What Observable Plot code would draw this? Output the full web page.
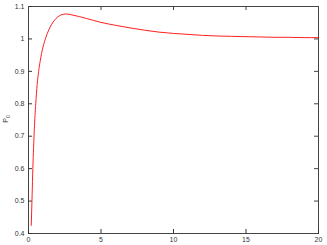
<!DOCTYPE html>
<html><head><meta charset="utf-8">
<script src="https://cdn.jsdelivr.net/npm/d3@7"></script>
<script src="https://cdn.jsdelivr.net/npm/@observablehq/plot@0.6"></script>
<style>body{margin:0;background:#fff}</style>
</head><body><div id="chart"></div>
<script>
const tValues = [0.19,0.25,0.3,0.4,0.5,0.6,0.7,0.8,0.9,1.0,1.2,1.4,1.6,1.8,2.0,2.2,2.4,2.6,2.8,3.0,3.5,4,4.5,5,6,7,8,9,10,11,12,13,14,15,16,17,18,19,20];
const p0Values = [0.425,0.52,0.60,0.72,0.80,0.86,0.90,0.93,0.955,0.975,1.005,1.028,1.045,1.058,1.067,1.073,1.076,1.077,1.076,1.074,1.069,1.063,1.057,1.051,1.042,1.034,1.027,1.021,1.017,1.014,1.011,1.009,1.008,1.007,1.006,1.005,1.005,1.004,1.004];
const xTicks = [0,5,10,15,20];
const yTicks = [0.4,0.5,0.6,0.7,0.8,0.9,1,1.1];
const data = tValues.map((t,i)=>({t, p: p0Values[i]}));
const font = "Liberation Sans, Arial, sans-serif";
const W = 327, H = 245, ML = 28, MR = 9, MT = 6, MB = 12;
const chart = Plot.plot({
  width: W, height: H,
  marginLeft: ML, marginRight: MR, marginTop: MT, marginBottom: MB,
  style: {fontFamily: font, fontSize: "7px", background: "#fff", color: "#333"},
  x: {domain: [0,20], ticks: xTicks},
  y: {domain: [0.4,1.1], ticks: yTicks},
  marks: [
    Plot.frame({stroke: "#444"}),
    Plot.axisX({ticks: xTicks, tickSize: -4, tickPadding: 8, label: null, tickFormat: d=>String(d)}),
    Plot.axisY({ticks: yTicks, tickSize: -4, tickPadding: 8, label: null, tickFormat: d=>String(+d.toFixed(1))}),
    Plot.tickX(xTicks, {x: d=>d, stroke: "#444", insetBottom: H-MT-MB-4}),
    Plot.tickY(yTicks, {y: d=>d, stroke: "#444", insetLeft: W-ML-MR-4}),
    Plot.line(data, {x: "t", y: "p", stroke: "#ff2020", strokeWidth: 1, curve: "monotone-x"})
  ]
});
document.getElementById("chart").appendChild(chart);
const svg = d3.select(chart);
const lbl = svg.append("text").attr("transform","translate(8,119) rotate(-90)")
  .attr("text-anchor","middle").attr("font-family",font).attr("font-size","7px").attr("fill","#333");
lbl.append("tspan").text("P");
lbl.append("tspan").attr("dy","2").attr("font-size","5px").text("0");
</script></body></html>
